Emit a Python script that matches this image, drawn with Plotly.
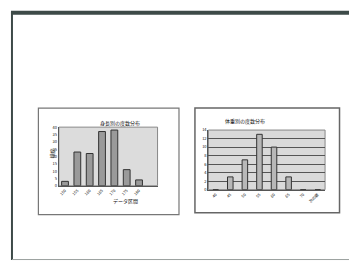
import plotly.graph_objects as go

W, H = 349, 263

# ---- data ----
left_title = "身長別の度数分布"
left_categories = ["150", "155", "160", "165", "170", "175", "180"]
left_values = [3, 23, 22, 37, 38, 11, 4]
left_yticks = [0, 5, 10, 15, 20, 25, 30, 35, 40]
left_xtitle = "データ区間"
left_ytitle = "頻度"

right_title = "体重別の度数分布"
right_categories = ["40", "45", "50", "55", "60", "65", "70", "次の級"]
right_values = [0, 3, 7, 13, 10, 3, 0, 0]
right_yticks = [0, 2, 4, 6, 8, 10, 12, 14]


def fx(px):
    return px / W


def fy(py):
    return 1 - py / H


FONT = "Noto Sans CJK JP, Noto Sans, sans-serif"

fig = go.Figure()

fig.add_trace(go.Bar(
    x=left_categories, y=left_values, xaxis="x", yaxis="y",
    marker=dict(color="#9a9a9a", line=dict(color="#333", width=1)),
    width=0.55, showlegend=False))

fig.add_trace(go.Bar(
    x=right_categories, y=right_values, xaxis="x2", yaxis="y2",
    marker=dict(color="#b8b8b8", line=dict(color="#333", width=1)),
    width=0.38, showlegend=False))

tickfont = dict(size=4, color="#111", family=FONT)

fig.update_layout(
    width=W, height=H,
    margin=dict(l=0, r=0, t=0, b=0),
    paper_bgcolor="white", plot_bgcolor="rgba(0,0,0,0)",
    font=dict(family=FONT),
    xaxis=dict(domain=[fx(58), fx(157)], anchor="y", type="category",
               range=[-0.5, 7.5], tickangle=-45, tickfont=tickfont,
               showline=True, linecolor="#555", linewidth=1, ticks="",
               showgrid=False, fixedrange=True),
    yaxis=dict(domain=[fy(186), fy(126)], anchor="x", range=[0, 40],
               tickvals=left_yticks, tickfont=tickfont,
               showline=True, linecolor="#555", linewidth=1, ticks="",
               showgrid=False, zeroline=False, fixedrange=True),
    xaxis2=dict(domain=[fx(208), fx(325)], anchor="y2", type="category",
                range=[-0.5, 7.5], tickangle=-45, tickfont=tickfont,
                showline=True, linecolor="#555", linewidth=1, ticks="",
                showgrid=False, fixedrange=True),
    yaxis2=dict(domain=[fy(190), fy(129)], anchor="x2", range=[0, 14],
                tickvals=right_yticks, tickfont=tickfont,
                showline=True, linecolor="#555", linewidth=1, ticks="",
                showgrid=True, gridcolor="#555", gridwidth=1.2,
                zeroline=False, fixedrange=True),
    bargap=0.4,
)

shapes = []
# slide frame
shapes.append(dict(type="rect", xref="paper", yref="paper",
                   x0=fx(10), x1=1, y0=fy(11), y1=fy(7),
                   fillcolor="#3d4a48", line=dict(width=0), layer="above"))
shapes.append(dict(type="line", xref="paper", yref="paper",
                   x0=fx(11), x1=fx(11), y0=fy(262), y1=fy(8),
                   line=dict(color="#3d4a48", width=2)))
shapes.append(dict(type="line", xref="paper", yref="paper",
                   x0=fx(11), x1=1, y0=fy(261.5), y1=fy(261.5),
                   line=dict(color="#9aa09e", width=1)))
# chart boxes
shapes.append(dict(type="rect", xref="paper", yref="paper",
                   x0=fx(37.5), x1=fx(178.5), y0=fy(215.5), y1=fy(106.5),
                   fillcolor="white", line=dict(color="#777", width=1.2), layer="below"))
shapes.append(dict(type="rect", xref="paper", yref="paper",
                   x0=fx(194.5), x1=fx(339.5), y0=fy(213.5), y1=fy(106.5),
                   fillcolor="white", line=dict(color="#666", width=1.5), layer="below"))
# plot area backgrounds
shapes.append(dict(type="rect", xref="paper", yref="paper",
                   x0=fx(58), x1=fx(157), y0=fy(186), y1=fy(126),
                   fillcolor="#dcdcdc", line=dict(color="#888", width=1), layer="below"))
shapes.append(dict(type="rect", xref="paper", yref="paper",
                   x0=fx(208), x1=fx(325), y0=fy(190), y1=fy(129),
                   fillcolor="#dadada", line=dict(color="#888", width=1), layer="below"))
fig.update_layout(shapes=shapes)

ann = []
ann.append(dict(text=left_title, x=fx(97), y=fy(122), xref="paper", yref="paper",
                showarrow=False, font=dict(size=5, color="#111", family=FONT)))
ann.append(dict(text=right_title, x=fx(267), y=fy(120), xref="paper", yref="paper",
                showarrow=False, font=dict(size=5, color="#111", family=FONT)))
ann.append(dict(text=left_xtitle, x=fx(110), y=fy(208), xref="paper", yref="paper",
                showarrow=False, font=dict(size=5, color="#111", family=FONT)))
ann.append(dict(text=left_ytitle, x=fx(45), y=fy(153), xref="paper", yref="paper",
                showarrow=False, textangle=-90, font=dict(size=5, color="#111", family=FONT)))
fig.update_layout(annotations=ann)

fig.write_html("out.html", config={"displayModeBar": False},
               post_script="document.body.style.margin='0';document.body.style.overflow='hidden';")
